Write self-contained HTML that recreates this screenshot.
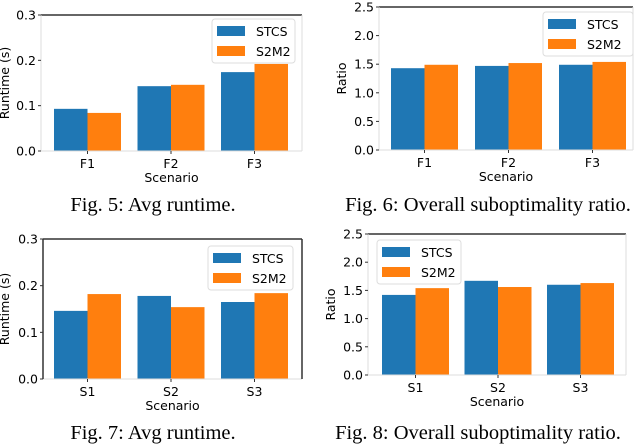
<!DOCTYPE html>
<html><head><meta charset="utf-8"><style>
html,body{margin:0;padding:0;background:#fff;}
svg{display:block;}
.tick{font-family:"DejaVu Sans",sans-serif;font-size:12.5px;fill:#000;}
.cap{font-family:"Liberation Serif",serif;font-size:20.5px;fill:#000;}
</style></head><body>
<svg id="fig" width="640" height="447" viewBox="0 0 640 447"></svg>
<script>
const seriesNames = ["STCS", "S2M2"];
const catsF = ["F1", "F2", "F3"];
const catsS = ["S1", "S2", "S3"];
const fig5Stcs = [0.093, 0.143, 0.174];
const fig5S2m2 = [0.084, 0.146, 0.192];
const fig6Stcs = [1.43, 1.47, 1.49];
const fig6S2m2 = [1.49, 1.52, 1.54];
const fig7Stcs = [0.146, 0.178, 0.165];
const fig7S2m2 = [0.182, 0.154, 0.184];
const fig8Stcs = [1.42, 1.67, 1.60];
const fig8S2m2 = [1.54, 1.56, 1.63];
const runtimeTicks = ["0.0", "0.1", "0.2", "0.3"];
const ratioTicks = ["0.0", "0.5", "1.0", "1.5", "2.0", "2.5"];
const colors = ["#1f77b4", "#ff7f0e"];
const NS = "http://www.w3.org/2000/svg";
const svg = document.getElementById("fig");
function mk(tag, attrs, parent) {
  const e = document.createElementNS(NS, tag);
  for (const k in attrs) e.setAttribute(k, attrs[k]);
  (parent || svg).appendChild(e);
  return e;
}
function chart(cfg) {
  const g = mk("g", {});
  
  
  const L = cfg.l, R = cfg.r, T = cfg.t, B = cfg.b;
  const ymax = cfg.ymax;
  const y = v => B - v / ymax * (B - T);
  const x0 = cfg.firstBar, step = cfg.step, bw = cfg.bw;
  const xGroup = i => x0 + i * step;
  [cfg.s1, cfg.s2].forEach((arr, si) => {
    arr.forEach((v, i) => {
      const r = mk("rect", {x: xGroup(i) + si * bw, y: y(v), width: bw, height: B - y(v), fill: colors[si]}, g);
      
      
    });
  });
  mk("line", {x1: L, y1: B, x2: R, y2: B, stroke: "#ddd", "stroke-width": 1}, g);
  mk("line", {x1: L, y1: T, x2: R, y2: T, stroke: "#333", "stroke-width": 1.5}, g);
  mk("line", {x1: L, y1: T, x2: L, y2: B, stroke: cfg.sideDark ? "#333" : "#ddd", "stroke-width": cfg.sideDark ? 1.5 : 1}, g);
  mk("line", {x1: R, y1: T, x2: R, y2: B, stroke: cfg.sideDark ? "#333" : "#ddd", "stroke-width": cfg.sideDark ? 1.5 : 1}, g);
  cfg.ticks.forEach(t => {
    const yy = y(parseFloat(t));
    mk("line", {x1: L - 3, y1: yy, x2: L, y2: yy, stroke: "#333"}, g);
    const tx = mk("text", {x: L - 5, y: yy + 4.5, "text-anchor": "end", class: "tick"}, g);
    tx.textContent = t;
    
    
  });
  cfg.cats.forEach((c, i) => {
    const cx = xGroup(i) + bw;
    mk("line", {x1: cx, y1: B, x2: cx, y2: B + 3, stroke: "#333"}, g);
    const tx = mk("text", {x: cx, y: B + 17, "text-anchor": "middle", class: "tick"}, g);
    tx.textContent = c;
    
    
  });
  const xt = mk("text", {x: (L + R) / 2, y: B + 31, "text-anchor": "middle", class: "tick"}, g);
  xt.textContent = "Scenario";
  
  
  const yt = mk("text", {x: 0, y: 0, "text-anchor": "middle", class: "tick", transform: `translate(${cfg.ytx},${(T + B) / 2}) rotate(-90)`}, g);
  yt.textContent = cfg.ytitle;
  
  
  const lg = mk("g", {}, g);
  
  
  mk("rect", {x: cfg.lx, y: cfg.ly, width: cfg.lw, height: 44, rx: 3, fill: "rgba(255,255,255,0.85)", stroke: "#ddd"}, lg);
  seriesNames.forEach((s, si) => {
    const yy = cfg.ly + 7 + si * 20;
    mk("rect", {x: cfg.lx + 5, y: yy, width: 28, height: 10, fill: colors[si]}, lg);
    const tx = mk("text", {x: cfg.lx + 44, y: yy + 10, class: "tick"}, lg);
    tx.textContent = s;
    
    
  });
  const cap = mk("text", {x: cfg.capx, y: cfg.capy, "text-anchor": "middle", class: "cap"}, g);
  cap.textContent = cfg.caption;
  
  
}
chart({name: "fig5-chart", l: 41, r: 302, t: 15, b: 151, ymax: 0.3, cats: catsF, s1: fig5Stcs, s2: fig5S2m2, ticks: runtimeTicks,
  firstBar: 54, step: 83.5, bw: 33.5, ytitle: "Runtime (s)", ytx: 9, lx: 212, ly: 19, lw: 83, caption: "Fig. 5: Avg runtime.", capx: 153, capy: 211, sideDark: false});
chart({name: "fig6-chart", l: 379, r: 633, t: 7, b: 150, ymax: 2.5, cats: catsF, s1: fig6Stcs, s2: fig6S2m2, ticks: ratioTicks,
  firstBar: 391, step: 84, bw: 33.5, ytitle: "Ratio", ytx: 346, lx: 543, ly: 12, lw: 90, caption: "Fig. 6: Overall suboptimality ratio.", capx: 488, capy: 211, sideDark: false});
chart({name: "fig7-chart", l: 43, r: 302, t: 239, b: 379, ymax: 0.3, cats: catsS, s1: fig7Stcs, s2: fig7S2m2, ticks: runtimeTicks,
  firstBar: 54, step: 83.5, bw: 33.5, ytitle: "Runtime (s)", ytx: 9, lx: 208, ly: 246, lw: 85, caption: "Fig. 7: Avg runtime.", capx: 153, capy: 439, sideDark: true});
chart({name: "fig8-chart", l: 368, r: 626, t: 234, b: 375, ymax: 2.5, cats: catsS, s1: fig8Stcs, s2: fig8S2m2, ticks: ratioTicks,
  firstBar: 382, step: 82.5, bw: 33.5, ytitle: "Ratio", ytx: 335, lx: 377, ly: 240, lw: 84, caption: "Fig. 8: Overall suboptimality ratio.", capx: 478, capy: 439, sideDark: false});
</script>
</body></html>
